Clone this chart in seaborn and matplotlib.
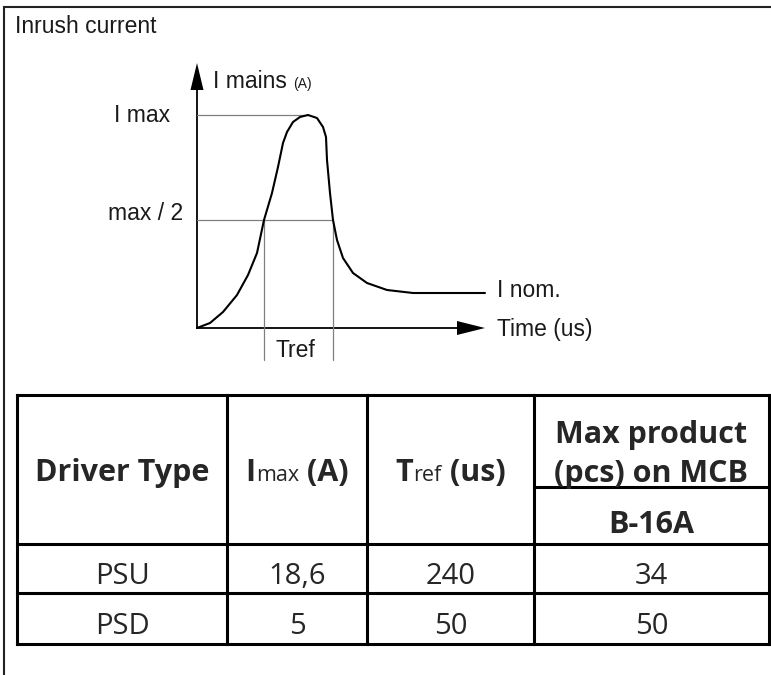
import seaborn as sns
import matplotlib.pyplot as plt
import pandas as pd

sns.set_style("white")
plt.rcParams['font.family'] = ['Liberation Sans', 'DejaVu Sans']

# inrush curve (time / current in arbitrary units)
curve_t = [0, 13, 26, 40, 51, 60, 67, 75, 81, 86, 90, 96, 103, 111, 120, 126, 129, 130, 133, 136,
           140, 146, 156, 170, 190, 216, 250, 288]
curve_i = [0, 5, 16, 33, 53, 75, 108, 135, 161, 185, 196, 206, 211, 213, 210, 201, 191, 168, 135, 108,
           88, 70, 55, 45, 38, 35, 35, 35]
i_max = 213
i_half = 108
tref_start = 67
tref_end = 136

# table contents
drivers = ['PSU', 'PSD']
imax_vals = ['18,6', '5']
tref_vals = ['240', '50']
max_pcs = ['34', '50']
mcb_type = 'B-16A'

tbl = pd.DataFrame({'driver': drivers, 'imax': imax_vals, 'tref': tref_vals, 'pcs': max_pcs})

W, H = 771, 675
fig = plt.figure(figsize=(W / 100, H / 100), dpi=100)
ax = fig.add_axes([0, 0, 1, 1])
ax.set_xlim(0, W)
ax.set_ylim(H, 0)
ax.axis('off')

# outer frame
ax.plot([4, 4, W], [H, 7, 7], color='#222222', lw=1.5, solid_joinstyle='miter')
ax.text(15, 33, 'Inrush current', fontsize=16.5, color='#1a1a1a', va='baseline')

# ---- diagram ----
X0, Y0 = 197, 328
axd = fig.add_axes([X0 / W, (H - Y0) / H, 288 / W, 265 / H])
axd.set_xlim(0, 288)
axd.set_ylim(0, 265)
axd.axis('off')

gray = '#808080'
axd.plot([0, 111], [i_max, i_max], color=gray, lw=0.9, clip_on=False)
axd.plot([0, tref_end], [i_half, i_half], color=gray, lw=0.9, clip_on=False)
for tx in [tref_start, tref_end]:
    axd.plot([tx, tx], [i_half, -32], color=gray, lw=0.9, clip_on=False)

sns.lineplot(x=curve_t, y=curve_i, sort=False, color='black', lw=1.5, ax=axd, clip_on=False)

axd.arrow(0, -1, 0, 266, width=1.8, head_width=13, head_length=27, length_includes_head=True,
          fc='black', ec='none', clip_on=False)
axd.arrow(-1, 0, 289, 0, width=1.8, head_width=14, head_length=28, length_includes_head=True,
          fc='black', ec='none', clip_on=False)

tc = '#1a1a1a'
axd.text(-27, 206, 'I max', fontsize=16.5, color=tc, ha='right', va='baseline')
axd.text(-14, 108, 'max / 2', fontsize=16.5, color=tc, ha='right', va='baseline')
axd.text((tref_start + tref_end) / 2 - 3, -29, 'Tref', fontsize=16.5, color=tc, ha='center', va='baseline')
axd.text(16, 240, 'I mains', fontsize=16.5, color=tc, va='baseline')
axd.text(96, 240, '(A)', fontsize=10, color=tc, va='baseline')
axd.text(300, 31, 'I nom.', fontsize=16.5, color=tc, va='baseline')
axd.text(300, -8, 'Time (us)', fontsize=16.5, color=tc, va='baseline')

# ---- table ----
col_x = [17, 227, 367, 534, 769]
row_y = [395, 544, 593, 644]
sub_y = 487
lw_t = 2.2
for x in col_x:
    ax.plot([x, x], [row_y[0], row_y[-1]], color='black', lw=lw_t, solid_capstyle='projecting')
for y in row_y:
    ax.plot([col_x[0], col_x[-1]], [y, y], color='black', lw=lw_t, solid_capstyle='projecting')
ax.plot([col_x[3], col_x[4]], [sub_y, sub_y], color='black', lw=lw_t)

tfont = ['Open Sans', 'DejaVu Sans']
renderer = fig.canvas.get_renderer()


def mixed(xc, y, parts):
    items = []
    for s, size, weight in parts:
        t = ax.text(0, y, s, fontsize=size, fontweight=weight, family=tfont, va='baseline', ha='left')
        items.append(t)
    widths = [t.get_window_extent(renderer).width for t in items]
    x = xc - sum(widths) / 2
    for t, w in zip(items, widths):
        t.set_x(x)
        x += w


centers = [(col_x[i] + col_x[i + 1]) / 2 for i in range(4)]
hs, small = 22, 15.5
mixed(centers[0], 481, [('Driver Type', hs, 'bold')])
mixed(centers[1], 481, [('I', hs, 'bold'), ('max', small, 'normal'), (' (A)', hs, 'bold')])
mixed(centers[2], 481, [('T', hs, 'bold'), ('ref', small, 'normal'), (' (us)', hs, 'bold')])
mixed(centers[3], 443, [('Max product', hs, 'bold')])
mixed(centers[3], 482, [('(pcs) on MCB', hs, 'bold')])
mixed(centers[3], 533, [(mcb_type, hs, 'bold')])

base = [584, 634]
for r, row in tbl.iterrows():
    for c, key in enumerate(['driver', 'imax', 'tref', 'pcs']):
        ax.text(centers[c], base[r], row[key], fontsize=21, family=tfont, ha='center', va='baseline')

fig.savefig('out.png', dpi=100)
